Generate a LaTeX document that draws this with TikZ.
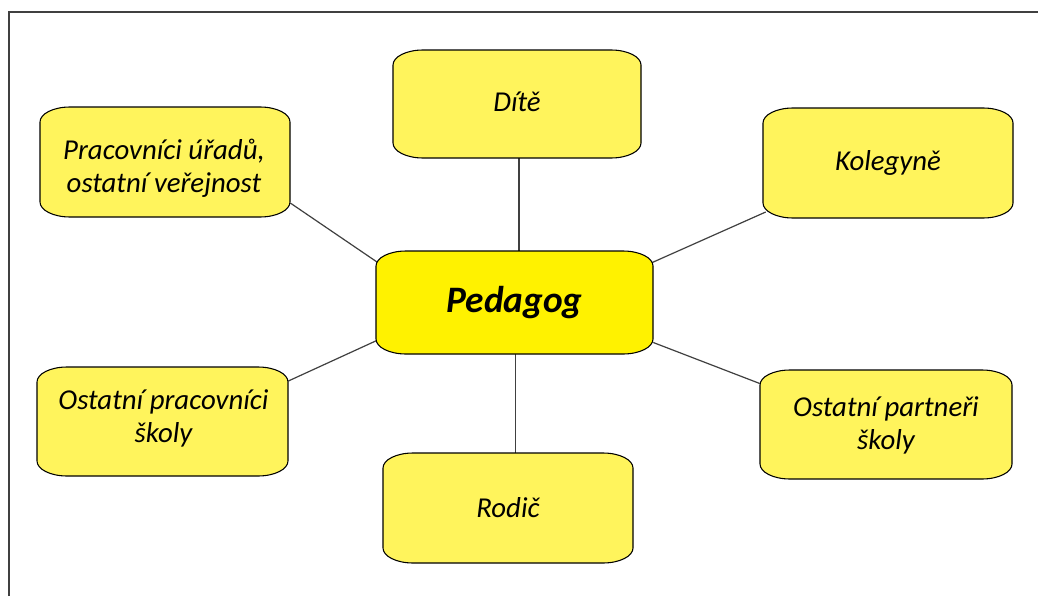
\documentclass[tikz,border=0pt]{standalone}
\usepackage{fontspec}
\setmainfont{Carlito}
\usetikzlibrary{calc}
\definecolor{lightyel}{RGB}{255,244,92}
\definecolor{brightyel}{RGB}{255,242,0}
\definecolor{framegray}{RGB}{64,64,64}
\newcommand\bubbleshape[5]{%
  \path[bubline,fill=#5]
    ({#1+30},#2) -- ({#3-30},#2)
    arc[start angle=-90,end angle=0,x radius=30,y radius=15]
    -- (#3,{#4-15})
    arc[start angle=0,end angle=90,x radius=30,y radius=15]
    -- ({#1+30},#4)
    arc[start angle=90,end angle=180,x radius=30,y radius=15]
    -- (#1,{#2+15})
    arc[start angle=180,end angle=270,x radius=30,y radius=15]
    -- cycle;}
\begin{document}
\begin{tikzpicture}[x=0.75pt,y=-0.75pt,
  bubline/.style={draw=black,line width=0.8pt},
  conn/.style={draw=framegray,line width=0.9pt},
  txt/.style={inner sep=0pt,align=center,font=\fontsize{21.6}{24.8}\selectfont\itshape},
  bigtxt/.style={inner sep=0pt,align=center,font=\fontsize{28}{32}\selectfont\bfseries\itshape}]
\useasboundingbox (0,0) rectangle (1038,596);
\path[fill=white] (0,0) rectangle (1038,596);
\draw[framegray,line width=1.1pt] (9,596) -- (9,12) -- (1038,12);
% node anchors (invisible placeholders sized as boxes)
\node[minimum width=187.5pt,minimum height=82.5pt,inner sep=0pt] (prac) at (165,162) {};
\node[minimum width=186pt,minimum height=81pt,inner sep=0pt] (dite) at (517,104) {};
\node[minimum width=187.5pt,minimum height=82.5pt,inner sep=0pt] (kol) at (888,163) {};
\node[minimum width=207.75pt,minimum height=77.25pt,inner sep=0pt] (ped) at (514.5,302.5) {};
\node[minimum width=188.25pt,minimum height=81.75pt,inner sep=0pt] (opr) at (162.5,421.5) {};
\node[minimum width=189pt,minimum height=81.75pt,inner sep=0pt] (opa) at (886,424.5) {};
\node[minimum width=187.5pt,minimum height=82.5pt,inner sep=0pt] (rod) at (508,508) {};
\coordinate (dtop) at ($(dite.south)+(2,0)$);
\coordinate (rtop) at ($(ped.south)+(1,0)$);
% connectors
\draw[conn] ($(prac.east)+(0,41)$) -- ($(ped.west)+(2,-40)$);
\draw[conn] ($(kol.west)+(3,49)$) -- ($(ped.east)+(-1,-40)$);
\draw[conn] ($(opr.east)+(-1,-40)$) -- ($(ped.west)+(1,38)$);
\draw[conn] ($(opa.west)+(0,-41)$) -- ($(ped.east)+(0,40)$);
\draw[conn] (dtop) -- (dtop |- ped.north);
\draw[conn] (rtop) -- (rtop |- rod.north);
% boxes
\bubbleshape{40}{107}{290}{217}{lightyel}
\bubbleshape{393}{50}{641}{158}{lightyel}
\bubbleshape{763}{108}{1013}{218}{lightyel}
\bubbleshape{376}{251}{653}{354}{brightyel}
\bubbleshape{37}{367}{288}{476}{lightyel}
\bubbleshape{760}{370}{1012}{479}{lightyel}
\bubbleshape{383}{453}{633}{563}{lightyel}
% texts
\node[txt] at ($(prac.center)+(-1,6)$) {Pracovníci úřadů,\\ostatní veřejnost};
\node[txt] at ($(dite.center)+(0,-2)$) {Dítě};
\node[txt] at ($(kol.center)+(0,0)$) {Kolegyně};
\node[bigtxt] at ($(ped.center)+(0,0)$) {Pedagog};
\node[txt] at ($(opr.center)+(1,-3)$) {Ostatní pracovníci\\školy};
\node[txt] at ($(opa.center)+(0,1)$) {Ostatní partneři\\školy};
\node[txt] at ($(rod.center)+(0,0)$) {Rodič};
\end{tikzpicture}
\end{document}
